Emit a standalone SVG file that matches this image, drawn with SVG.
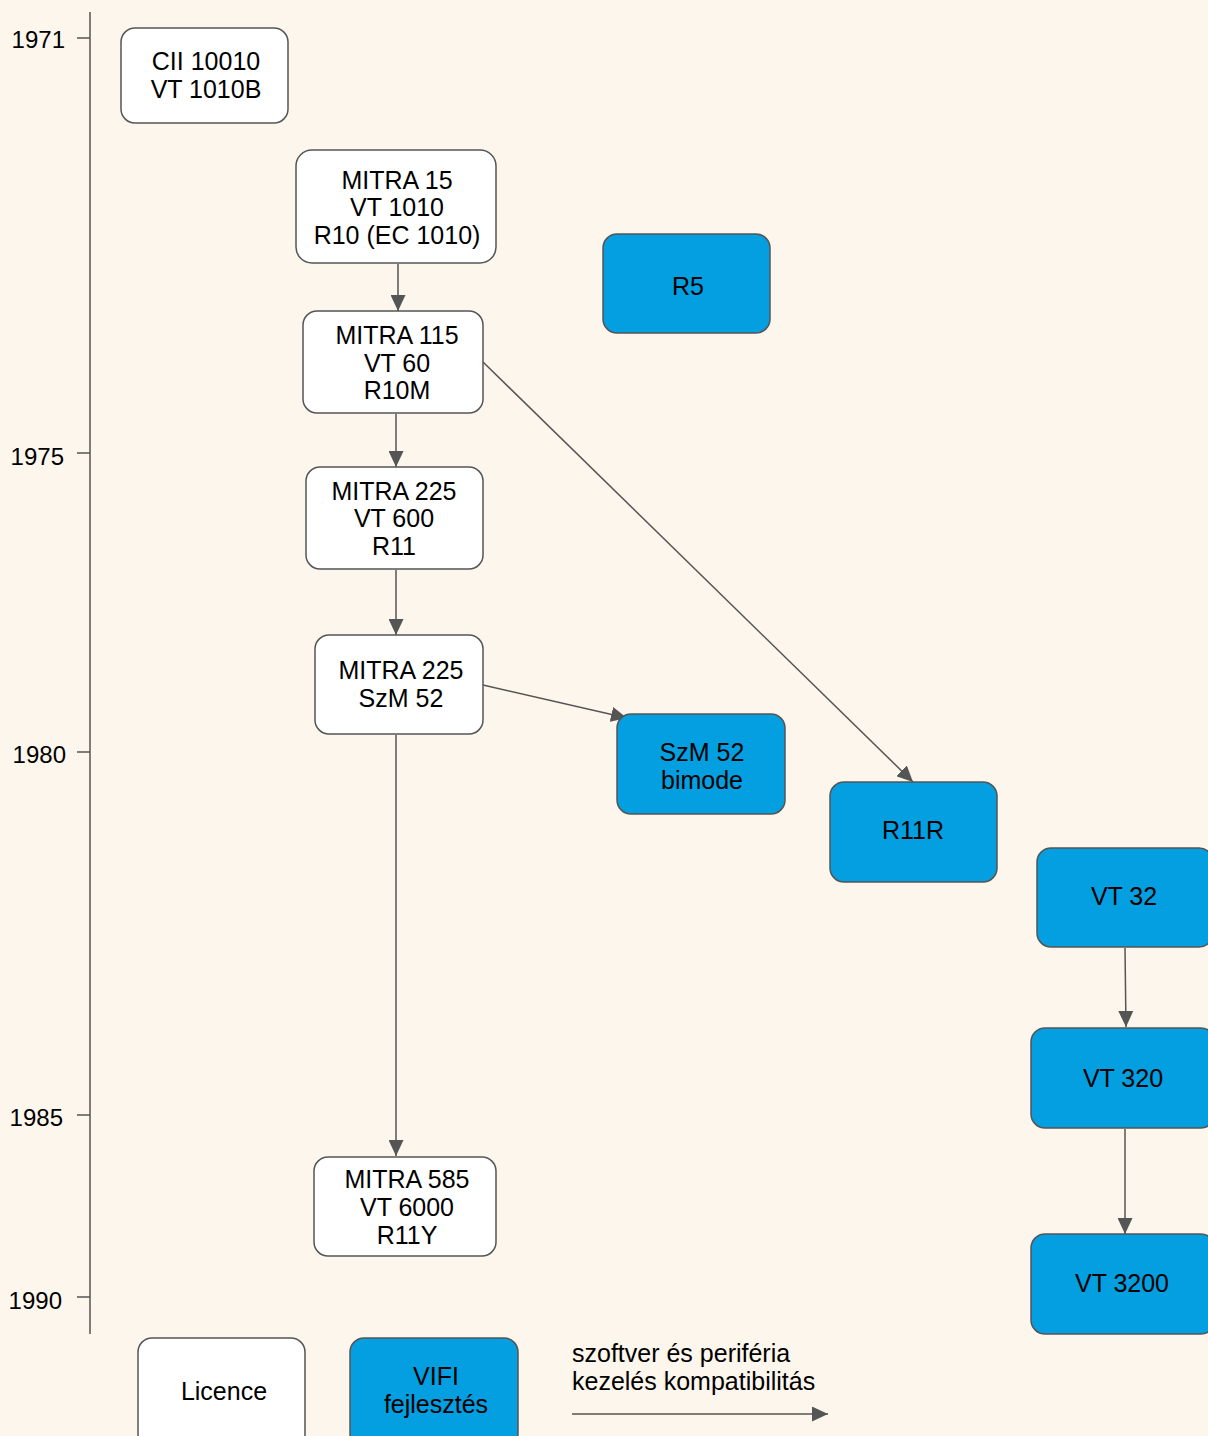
<svg xmlns="http://www.w3.org/2000/svg" width="1208" height="1436" viewBox="0 0 1208 1436">
<defs>
<style>
.bg{fill:#fdf6ec}
.lic{fill:#ffffff;stroke:#555555;stroke-width:1.5}
.vifi{fill:#039fe0;stroke:#555555;stroke-width:1.5}
.t{font-family:"Liberation Sans",Arial,sans-serif;font-size:25px;fill:#000;text-anchor:middle}
.y{font-family:"Liberation Sans",Arial,sans-serif;font-size:24px;fill:#000;text-anchor:end}
.l{font-family:"Liberation Sans",Arial,sans-serif;font-size:25px;fill:#000}
.ax{stroke:#555555;stroke-width:1.5;fill:none}
.c{stroke:#555555;stroke-width:1.5;fill:none;marker-end:url(#ah)}
</style>
<marker id="ah" markerWidth="16" markerHeight="15" refX="16" refY="7.5" orient="auto" markerUnits="userSpaceOnUse" viewBox="0 0 16 15">
<path d="M0,0 L16,7.5 L0,15 z" fill="#555555"/>
</marker>
</defs>
<rect class="bg" x="0" y="0" width="1208" height="1436"/>
<g id="axis">
<line class="ax" x1="90" y1="12" x2="90" y2="1334"/>
<line class="ax" x1="77" y1="38" x2="90" y2="38"/>
<line class="ax" x1="77" y1="453" x2="90" y2="453"/>
<line class="ax" x1="77" y1="752" x2="90" y2="752"/>
<line class="ax" x1="77" y1="1115" x2="90" y2="1115"/>
<line class="ax" x1="77" y1="1297" x2="90" y2="1297"/>
<text class="y" x="65" y="48">1971</text>
<text class="y" x="64" y="465">1975</text>
<text class="y" x="66" y="763">1980</text>
<text class="y" x="63" y="1126">1985</text>
<text class="y" x="62" y="1309">1990</text>
</g>
<g id="connectors">
<line class="c" x1="398" y1="264" x2="398" y2="311"/>
<line class="c" x1="396" y1="414" x2="396" y2="467"/>
<line class="c" x1="396" y1="570" x2="396" y2="635"/>
<line class="c" x1="483" y1="685" x2="627" y2="718"/>
<line class="c" x1="483" y1="362" x2="913" y2="782"/>
<line class="c" x1="396" y1="735" x2="396" y2="1156"/>
<line class="c" x1="1125" y1="948" x2="1126" y2="1027"/>
<line class="c" x1="1125" y1="1129" x2="1125" y2="1234"/>
</g>
<g id="n_cii"><rect class="lic" x="121" y="28" width="167" height="95" rx="14"/><text class="t" x="206" y="70">CII 10010</text><text class="t" x="206" y="98">VT 1010B</text></g>
<g id="n_mitra15"><rect class="lic" x="296" y="150" width="200" height="113" rx="16"/><text class="t" x="397" y="189">MITRA 15</text><text class="t" x="397" y="216">VT 1010</text><text class="t" x="397" y="244">R10 (EC 1010)</text></g>
<g id="n_r5"><rect class="vifi" x="603" y="234" width="167" height="99" rx="14"/><text class="t" x="688" y="295">R5</text></g>
<g id="n_mitra115"><rect class="lic" x="303" y="311" width="180" height="102" rx="14"/><text class="t" x="397" y="344">MITRA 115</text><text class="t" x="397" y="372">VT 60</text><text class="t" x="397" y="399">R10M</text></g>
<g id="n_mitra225"><rect class="lic" x="306" y="467" width="177" height="102" rx="14"/><text class="t" x="394" y="500">MITRA 225</text><text class="t" x="394" y="527">VT 600</text><text class="t" x="394" y="555">R11</text></g>
<g id="n_mitra225szm"><rect class="lic" x="315" y="635" width="168" height="99" rx="14"/><text class="t" x="401" y="679">MITRA 225</text><text class="t" x="401" y="707">SzM 52</text></g>
<g id="n_szm52"><rect class="vifi" x="617" y="714" width="168" height="100" rx="14"/><text class="t" x="702" y="761">SzM 52</text><text class="t" x="702" y="789">bimode</text></g>
<g id="n_r11r"><rect class="vifi" x="830" y="782" width="167" height="100" rx="14"/><text class="t" x="913" y="839">R11R</text></g>
<g id="n_vt32"><rect class="vifi" x="1037" y="848" width="176" height="99" rx="14"/><text class="t" x="1124" y="905">VT 32</text></g>
<g id="n_vt320"><rect class="vifi" x="1031" y="1028" width="184" height="100" rx="14"/><text class="t" x="1123" y="1087">VT 320</text></g>
<g id="n_vt3200"><rect class="vifi" x="1031" y="1234" width="184" height="100" rx="14"/><text class="t" x="1122" y="1292">VT 3200</text></g>
<g id="n_mitra585"><rect class="lic" x="314" y="1157" width="182" height="99" rx="14"/><text class="t" x="407" y="1188">MITRA 585</text><text class="t" x="407" y="1216">VT 6000</text><text class="t" x="407" y="1244">R11Y</text></g>
<g id="legend">
<rect class="lic" x="138" y="1338" width="167" height="110" rx="14"/><text class="t" x="224" y="1400">Licence</text>
<rect class="vifi" x="350" y="1338" width="168" height="110" rx="14"/><text class="t" x="436" y="1385">VIFI</text><text class="t" x="436" y="1413">fejlesztés</text>
<text class="l" x="572" y="1362">szoftver és periféria</text>
<text class="l" x="572" y="1390">kezelés kompatibilitás</text>
<line class="c" x1="572" y1="1414" x2="828" y2="1414"/>
</g>
</svg>
